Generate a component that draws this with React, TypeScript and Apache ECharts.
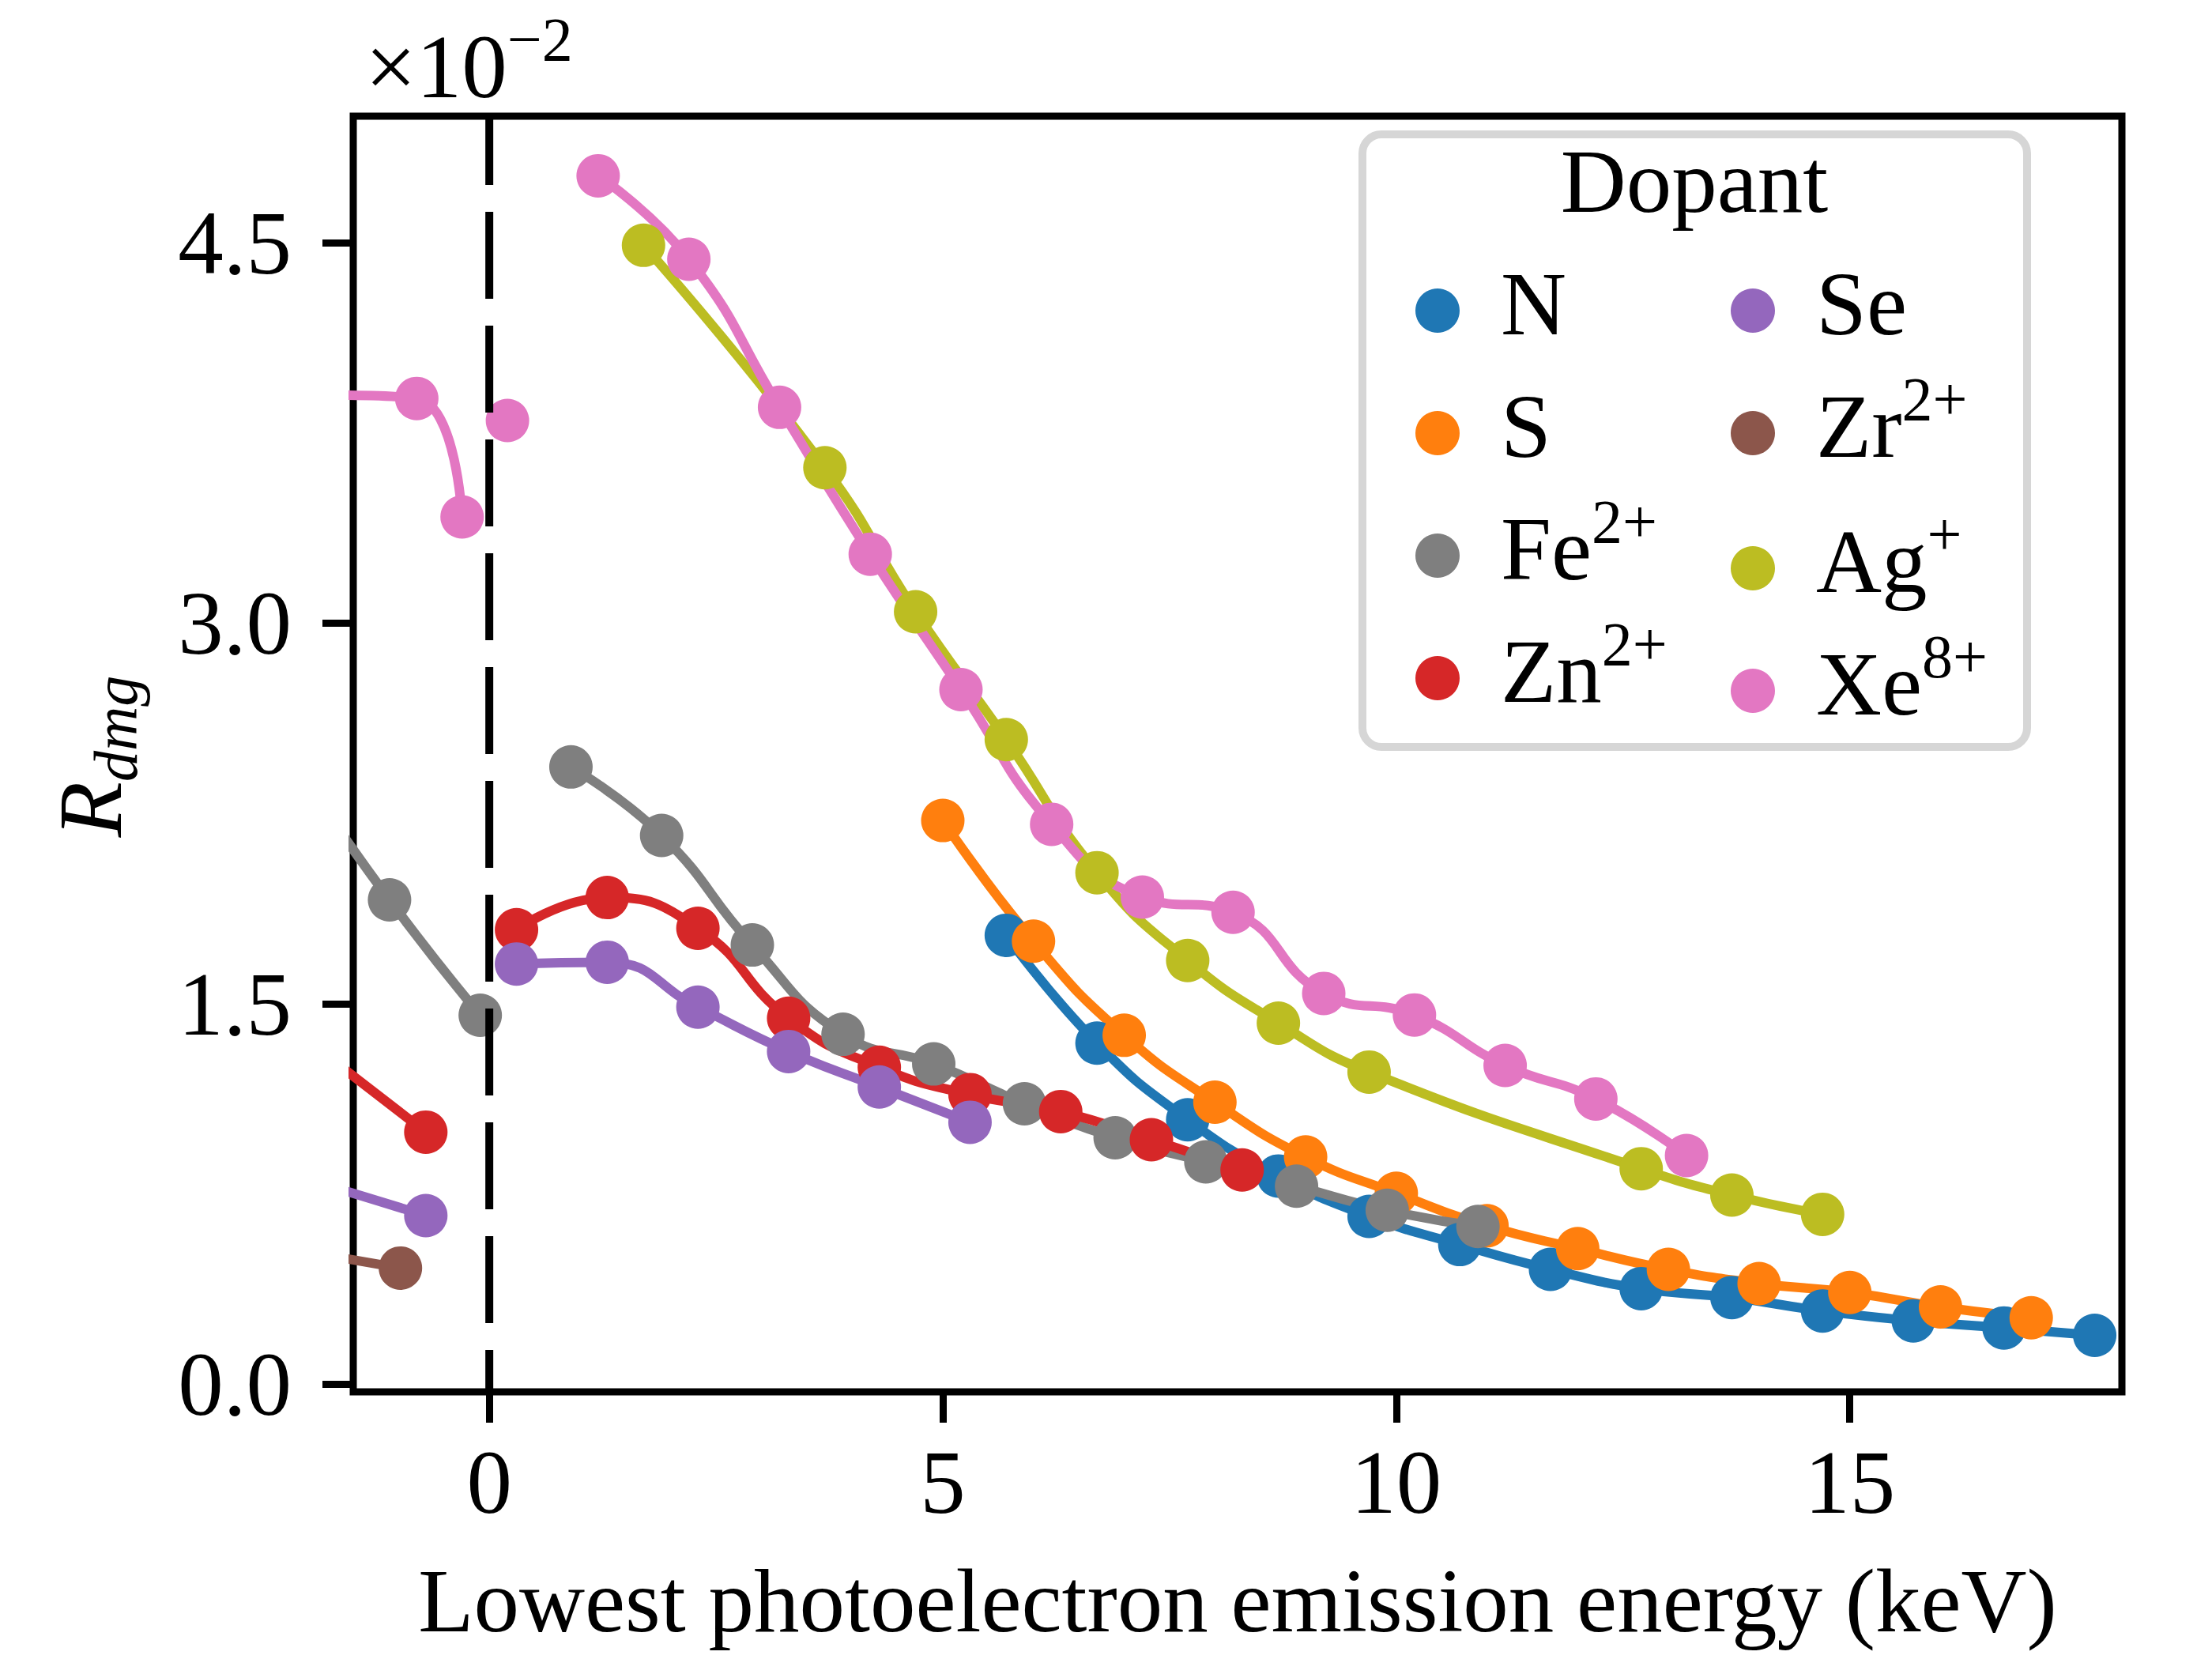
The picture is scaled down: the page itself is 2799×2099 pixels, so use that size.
import React, { useEffect, useRef } from 'react';
import * as echarts from 'echarts';

const FONT = '"Liberation Serif", "Times New Roman", serif';
const FS = 115;
const FS_SUP = 78;

// axis ranges and ticks (values in units of 1e-2)
const X_MIN = -1.5;
const X_MAX = 18;
const Y_MIN = -0.03;
const Y_MAX = 5.0;
const X_TICKS = [0, 5, 10, 15];
const Y_TICKS = [0, 1.5, 3.0, 4.5];

const DOPANTS = ['N', 'S', 'Fe2+', 'Zn2+', 'Se', 'Zr2+', 'Ag+', 'Xe8+'];
const COLORS: Record<string, string> = {
  N: '#1f77b4',
  S: '#ff7f0e',
  'Fe2+': '#7f7f7f',
  'Zn2+': '#d62728',
  Se: '#9467bd',
  'Zr2+': '#8c564b',
  'Ag+': '#bcbd22',
  'Xe8+': '#e377c2',
};

// N
const N_X = [5.7, 6.7, 7.7, 8.7, 9.7, 10.7, 11.7, 12.7, 13.7, 14.7, 15.7, 16.7, 17.7];
const N_Y = [1.77, 1.345, 1.043, 0.821, 0.662, 0.551, 0.453, 0.377, 0.342, 0.289, 0.25, 0.222, 0.193];
// S
const S_X = [5.0, 6.0, 7.0, 8.0, 9.0, 10.0, 11.0, 12.0, 13.0, 14.0, 15.0, 16.0, 17.0];
const S_Y = [2.223, 1.747, 1.376, 1.112, 0.896, 0.753, 0.625, 0.535, 0.453, 0.397, 0.362, 0.305, 0.262];
// Fe2+
const FE_L_X = [-2.1, -1.1, -0.1];
const FE_L_Y = [2.42, 1.91, 1.455];
const FE_R_X = [0.9, 1.9, 2.9, 3.9, 4.9, 5.9, 6.9, 7.9, 8.9, 9.9, 10.9];
const FE_R_Y = [2.434, 2.164, 1.732, 1.38, 1.263, 1.106, 0.972, 0.877, 0.781, 0.686, 0.622];
// Zn2+
const ZN_L_X = [-1.7, -0.7];
const ZN_L_Y = [1.27, 0.994];
const ZN_R_X = [0.3, 1.3, 2.3, 3.3, 4.3, 5.3, 6.3, 7.3, 8.3];
const ZN_R_Y = [1.792, 1.919, 1.798, 1.443, 1.25, 1.142, 1.075, 0.964, 0.845];
// Se
const SE_L_X = [-1.7, -0.7];
const SE_L_Y = [0.775, 0.665];
const SE_R_X = [0.3, 1.3, 2.3, 3.3, 4.3, 5.3];
const SE_R_Y = [1.657, 1.664, 1.487, 1.312, 1.172, 1.033];
// Zr2+
const ZR_X = [-1.98, -0.98];
const ZR_Y = [0.52, 0.458];
// Ag+
const AG_X = [1.7, 3.7, 4.7, 5.7, 6.7, 7.7, 8.7, 9.7, 12.7, 13.7, 14.7];
const AG_Y = [4.491, 3.614, 3.046, 2.542, 2.017, 1.671, 1.424, 1.231, 0.85, 0.746, 0.67];
// Xe8+
const XE_L_X = [-1.75, -0.8, -0.3];
const XE_L_Y = [3.9, 3.887, 3.42];
const XE_M_X = [0.2];
const XE_M_Y = [3.8];
const XE_R_X = [1.2, 2.2, 3.2, 4.2, 5.2, 6.2, 7.2, 8.2, 9.2, 10.2, 11.2, 12.2, 13.2];
const XE_R_Y = [4.765, 4.436, 3.852, 3.273, 2.739, 2.208, 1.921, 1.861, 1.541, 1.456, 1.257, 1.125, 0.902];

const SEGMENTS: [string, number[], number[]][] = [
  ['N', N_X, N_Y],
  ['S', S_X, S_Y],
  ['Fe2+', FE_L_X, FE_L_Y],
  ['Fe2+', FE_R_X, FE_R_Y],
  ['Zn2+', ZN_L_X, ZN_L_Y],
  ['Zn2+', ZN_R_X, ZN_R_Y],
  ['Se', SE_L_X, SE_L_Y],
  ['Se', SE_R_X, SE_R_Y],
  ['Zr2+', ZR_X, ZR_Y],
  ['Ag+', AG_X, AG_Y],
  ['Xe8+', XE_L_X, XE_L_Y],
  ['Xe8+', XE_M_X, XE_M_Y],
  ['Xe8+', XE_R_X, XE_R_Y],
];

// legend layout: two columns of four entries
const LEGEND_COL_X = [1819, 2218];
const LEGEND_ROW_Y = [
  [393, 548, 703, 858],
  [393, 548, 719, 874],
];

const RICH = {
  b: { fontFamily: FONT, fontSize: FS, lineHeight: 147, color: '#000' },
  sup: { fontFamily: FONT, fontSize: FS_SUP, verticalAlign: 'top', color: '#000' },
};

const richLabel = (name: string) => {
  const m = name.match(/^([A-Za-z]+)(\d*\+)$/);
  return m ? `{b|${m[1]}}{sup|${m[2]}}` : `{b|${name}}`;
};

export default function App() {
  const ref = useRef<HTMLDivElement>(null);

  useEffect(() => {
    if (!ref.current) return;
    const chart = echarts.init(ref.current, undefined, { renderer: 'svg' });

    const series: any[] = SEGMENTS.map(([name, xs, ys]) => ({
      type: 'line',
      name,
      data: xs.map((x, i) => [x, ys[i]]),
      smooth: 0.5,
      symbol: 'circle',
      symbolSize: 55,
      showSymbol: true,
      clip: true,
      lineStyle: { width: 12, color: COLORS[name] },
      itemStyle: { color: COLORS[name] },
      emphasis: { disabled: true },
      z: 2,
    }));

    series.push({
      type: 'line',
      name: 'zero',
      data: [
        [0, Y_MIN],
        [0, Y_MAX],
      ],
      symbol: 'none',
      silent: true,
      lineStyle: { width: 10, color: '#000', type: [110, 34], dashOffset: 57 },
      emphasis: { disabled: true },
      z: 3,
    });

    const legendEls: any[] = [];
    DOPANTS.forEach((name, i) => {
      const col = Math.floor(i / 4);
      const row = i % 4;
      const cx = LEGEND_COL_X[col];
      const cy = LEGEND_ROW_Y[col][row];
      legendEls.push({
        type: 'circle',
        z: 6,
        shape: { cx, cy, r: 28 },
        style: { fill: COLORS[name] },
      });
      legendEls.push({
        type: 'text',
        z: 6,
        x: cx + 80,
        y: cy - 9,
        style: {
          text: richLabel(name),
          rich: RICH,
          fill: '#000',
          align: 'left',
          verticalAlign: 'middle',
        },
      });
    });

    const option: any = {
      animation: false,
      backgroundColor: '#ffffff',
      grid: {
        left: 447,
        top: 147,
        width: 2238,
        height: 1614,
        show: true,
        borderColor: '#000',
        borderWidth: 9,
        backgroundColor: 'transparent',
      },
      xAxis: {
        type: 'value',
        min: X_MIN,
        max: X_MAX,
        name: 'Lowest photoelectron emission energy (keV)',
        nameLocation: 'middle',
        nameGap: 214,
        nameTextStyle: { fontFamily: FONT, fontSize: FS, lineHeight: 100, color: '#000' },
        axisLine: { show: false, onZero: false },
        splitLine: { show: false },
        axisTick: { show: true, length: 39, lineStyle: { color: '#000', width: 9 }, customValues: X_TICKS },
        axisLabel: {
          customValues: X_TICKS,
          margin: 59,
          fontFamily: FONT,
          fontSize: FS,
          lineHeight: 111,
          color: '#000',
          formatter: (v: number) => String(v),
        },
      },
      yAxis: {
        type: 'value',
        min: Y_MIN,
        max: Y_MAX,
        axisLine: { show: false, onZero: false },
        splitLine: { show: false },
        axisTick: { show: true, length: 39, lineStyle: { color: '#000', width: 9 }, customValues: Y_TICKS },
        axisLabel: {
          customValues: Y_TICKS,
          margin: 78,
          fontFamily: FONT,
          fontSize: FS,
          lineHeight: 111,
          color: '#000',
          formatter: (v: number) => v.toFixed(1),
        },
      },
      graphic: {
        elements: [
          {
            type: 'rect',
            z: 5,
            shape: { x: 1724, y: 170, width: 841, height: 775, r: 24 },
            style: { fill: '#ffffff', stroke: '#d6d6d6', lineWidth: 10 },
          },
          {
            type: 'text',
            z: 6,
            x: 2144,
            y: 229,
            style: {
              text: 'Dopant',
              fontFamily: FONT,
              fontSize: FS,
              fill: '#000',
              align: 'center',
              verticalAlign: 'middle',
            },
          },
          ...legendEls,
          {
            type: 'text',
            z: 6,
            x: 462,
            y: 84,
            style: {
              text: '{b|×10}{sup|−2}',
              rich: RICH,
              fill: '#000',
              align: 'left',
              verticalAlign: 'middle',
            },
          },
          {
            type: 'text',
            z: 6,
            x: 114,
            y: 957,
            rotation: Math.PI / 2,
            style: {
              text: '{r|R}{s|dmg}',
              align: 'center',
              verticalAlign: 'middle',
              fill: '#000',
              rich: {
                r: { fontFamily: FONT, fontSize: FS, fontStyle: 'italic', lineHeight: 143, color: '#000' },
                s: {
                  fontFamily: FONT,
                  fontSize: FS_SUP,
                  fontStyle: 'italic',
                  verticalAlign: 'bottom',
                  color: '#000',
                },
              },
            },
          },
        ],
      },
      series,
    };

    chart.setOption(option);
    return () => {
      chart.dispose();
    };
  }, []);

  return (
    <div
      ref={ref}
      style={{ position: 'absolute', left: 0, top: 0, width: 2799, height: 2099, background: '#fff' }}
    />
  );
}
